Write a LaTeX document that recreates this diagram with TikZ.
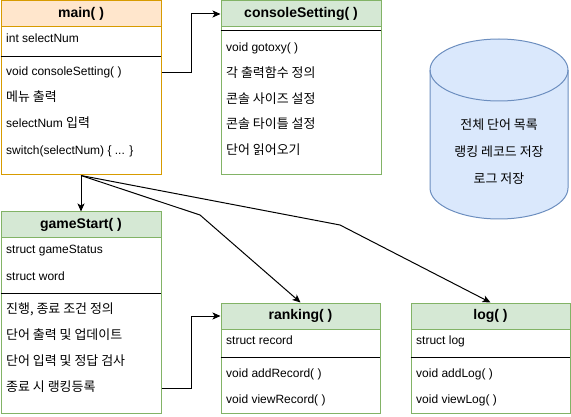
\documentclass[tikz,border=0pt]{standalone}
\usepackage{fontspec}
\setmainfont{Liberation Sans}
\newfontfamily\kr[Scale=1.08]{Noto Sans CJK KR}
\usepackage{xcolor}
\usepackage{tikz}
\usetikzlibrary{arrows.meta,positioning}
\definecolor{mainfill}{HTML}{FFE6CC}
\definecolor{mainline}{HTML}{D79B00}
\definecolor{funcfill}{HTML}{D5E8D4}
\definecolor{funcline}{HTML}{82B366}
\definecolor{dbfill}{HTML}{DAE8FC}
\definecolor{dbline}{HTML}{6C8EBF}

\begin{document}
\begin{tikzpicture}[
  x=1pt, y=-1pt,
  font=\fontsize{12}{14}\selectfont,
  box/.style={draw, fill=white, line width=1pt, inner sep=0pt, anchor=north west},
  head/.style={draw, line width=1pt, inner sep=0pt, minimum height=26pt, anchor=north west, font=\fontsize{14}{16}\selectfont\bfseries},
  row/.style={anchor=west, inner sep=0pt, text height=9pt, text depth=3pt},
  sep/.style={line width=1pt},
  arr/.style={-{Stealth[length=8pt,width=7pt,inset=2pt]}, line width=1pt}
]
\useasboundingbox (0,0) rectangle (571,417);

% main( )
\node[box, draw=mainline, minimum width=160pt, minimum height=174pt] (main) at (0.5,0.5) {};
\node[head, draw=mainline, fill=mainfill, minimum width=160pt] (mainhead) at (main.north west) {main( )};
\node[row] (mainvar) at (6,40) {int selectNum};
\draw[sep] (0.5,56.5) -- (160.5,56.5);
\node[row] (mainop1) at (6,73) {void consoleSetting( )};
\node[row] (mainop2) at (6,99) {\kr 메뉴 출력};
\node[row] (mainop3) at (6,125) {selectNum {\kr 입력}};
\node[row] (mainop4) at (6,152) {switch(selectNum) \{ ... \}};

% consoleSetting( )
\node[box, draw=funcline, minimum width=160pt, minimum height=174pt] (cons) at (220.5,0.5) {};
\node[head, draw=funcline, fill=funcfill, minimum width=160pt] (conshead) at (cons.north west) {consoleSetting( )};
\draw[sep] (220.5,30.5) -- (380.5,30.5);
\node[row] (consop1) at (226,49) {void gotoxy( )};
\node[row] (consop2) at (226,75) {\kr 각 출력함수 정의};
\node[row] (consop3) at (226,101) {\kr 콘솔 사이즈 설정};
\node[row] (consop4) at (226,126) {\kr 콘솔 타이틀 설정};
\node[row] (consop5) at (226,152) {\kr 단어 읽어오기};

% data store
\draw[dbline, fill=dbfill, line width=1pt] (430,70) -- (430,188)
  arc[start angle=180, end angle=360, x radius=69pt, y radius=31pt] -- (568,70)
  arc[start angle=0, end angle=180, x radius=69pt, y radius=31pt] -- cycle;
\draw[dbline, line width=1pt] (430,70) arc[start angle=180, end angle=360, x radius=69pt, y radius=31pt];
\node[align=center, inner sep=0pt, font=\kr\fontsize{12}{27}\selectfont] (db) at (499,152) {전체 단어 목록\\랭킹 레코드 저장\\로그 저장};

% gameStart( )
\node[box, draw=funcline, minimum width=160pt, minimum height=201pt] (game) at (0.5,211.5) {};
\node[head, draw=funcline, fill=funcfill, minimum width=160pt] (gamehead) at (game.north west) {gameStart( )};
\node[row] (gamevar1) at (6,251) {struct gameStatus};
\node[row] (gamevar2) at (6,277) {struct word};
\draw[sep] (0.5,293.5) -- (160.5,293.5);
\node[row] (gameop1) at (6,310) {\kr 진행, 종료 조건 정의};
\node[row] (gameop2) at (6,336) {\kr 단어 출력 및 업데이트};
\node[row] (gameop3) at (6,362) {\kr 단어 입력 및 정답 검사};
\node[row] (gameop4) at (6,388) {\kr 종료 시 랭킹등록};

% ranking( )
\node[box, draw=funcline, minimum width=159pt, minimum height=110pt] (rank) at (220.5,302.5) {};
\node[head, draw=funcline, fill=funcfill, minimum width=159pt] (rankhead) at (rank.north west) {ranking( )};
\node[row] (rankvar) at (226,341) {struct record};
\draw[sep] (220.5,357.5) -- (379.5,357.5);
\node[row] (rankop1) at (226,374) {void addRecord( )};
\node[row] (rankop2) at (226,400) {void viewRecord( )};

% log( )
\node[box, draw=funcline, minimum width=159pt, minimum height=110pt] (log) at (410.5,302.5) {};
\node[head, draw=funcline, fill=funcfill, minimum width=159pt] (loghead) at (log.north west) {log( )};
\node[row] (logvar) at (416,341) {struct log};
\draw[sep] (410.5,357.5) -- (569.5,357.5);
\node[row] (logop1) at (416,374) {void addLog( )};
\node[row] (logop2) at (416,400) {void viewLog( )};

% connectors
\draw[arr] (main.east |- mainop1) -- ++(30,0) |- (conshead.west);
\draw[arr] (main.south) -- (gamehead.north);
\draw[arr] (main.south) -- (200,215) -- (rankhead.north);
\draw[arr] (main.south) -- (340,225) -- (loghead.north);
\draw[arr] (game.east |- gameop4) -- ++(30,0) |- (rankhead.west);
\end{tikzpicture}
\end{document}
